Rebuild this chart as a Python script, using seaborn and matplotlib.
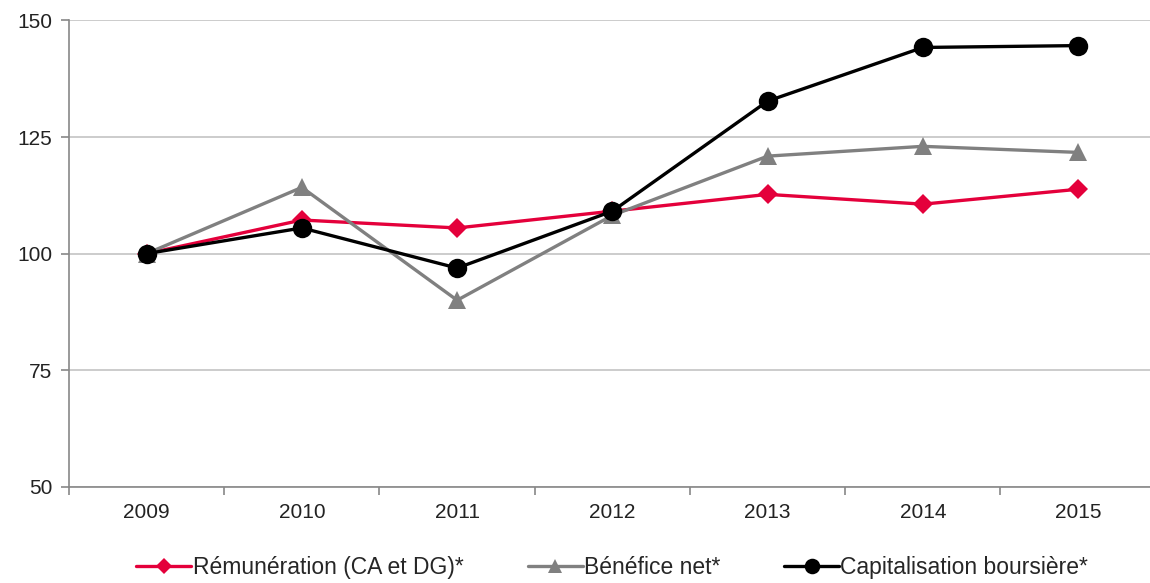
import matplotlib

matplotlib.use("Agg")
import matplotlib.pyplot as plt
import numpy as np
import pandas as pd
import seaborn as sns

years = ["2009", "2010", "2011", "2012", "2013", "2014", "2015"]
remuneration = [100, 107.2, 105.5, 109.1, 112.7, 110.6, 113.8]
benefice = [100, 114.2, 90.0, 108.2, 120.9, 123.0, 121.7]
capitalisation = [100, 105.5, 96.9, 109.1, 132.7, 144.2, 144.6]

series_names = [
    "Rémunération (CA et DG)*",
    "Bénéfice net*",
    "Capitalisation boursière*",
]
series_values = [remuneration, benefice, capitalisation]
colors = ["#E4003B", "#808080", "#000000"]
markers = ["D", "^", "o"]
marker_sizes = [10, 13, 14]

sns.set_style("white")
plt.rcParams["font.family"] = ["Liberation Sans", "DejaVu Sans"]

fig = plt.figure(figsize=(11.5, 5.83), dpi=100)
ax = fig.add_axes([0.06, 0.165, 0.945, 0.8])

x = np.arange(len(years))
for name, vals, col, mk, ms in zip(series_names, series_values, colors, markers, marker_sizes):
    df = pd.DataFrame({"x": x, "y": vals})
    sns.lineplot(
        data=df, x="x", y="y", ax=ax, color=col, marker=mk, markersize=ms,
        markeredgewidth=0, linewidth=2.4, label=name,
    )

ax.set_xlim(-0.5, 6.5)
ax.set_ylim(50, 150)
ax.set_yticks([50, 75, 100, 125, 150])
ax.set_xticks(x)
ax.set_xticklabels(years)
ax.set_xticks(np.arange(-0.5, 7, 1), minor=True)
ax.tick_params(axis="x", which="major", bottom=True, length=0, pad=12, labelsize=15, colors="#222222")
ax.tick_params(axis="x", which="minor", bottom=True, length=6, width=1.2, color="#888888")
ax.tick_params(axis="y", left=True, length=6, width=1.2, color="#888888", labelsize=15, labelcolor="#222222", pad=6)
ax.set_xlabel("")
ax.set_ylabel("")
ax.yaxis.grid(True, color="#c4c4c4", linewidth=1.2)
ax.set_axisbelow(True)
for side in ["top", "right"]:
    ax.spines[side].set_visible(False)
for side in ["left", "bottom"]:
    ax.spines[side].set_color("#888888")
    ax.spines[side].set_linewidth(1.2)

ax.legend(
    loc="upper center", bbox_to_anchor=(0.5, -0.105), ncol=3, frameon=False,
    fontsize=16.5, handlelength=2.4, handletextpad=0.05, columnspacing=2.8,
    markerscale=0.8,
)

fig.savefig("out.png", dpi=100)
plt.close(fig)
